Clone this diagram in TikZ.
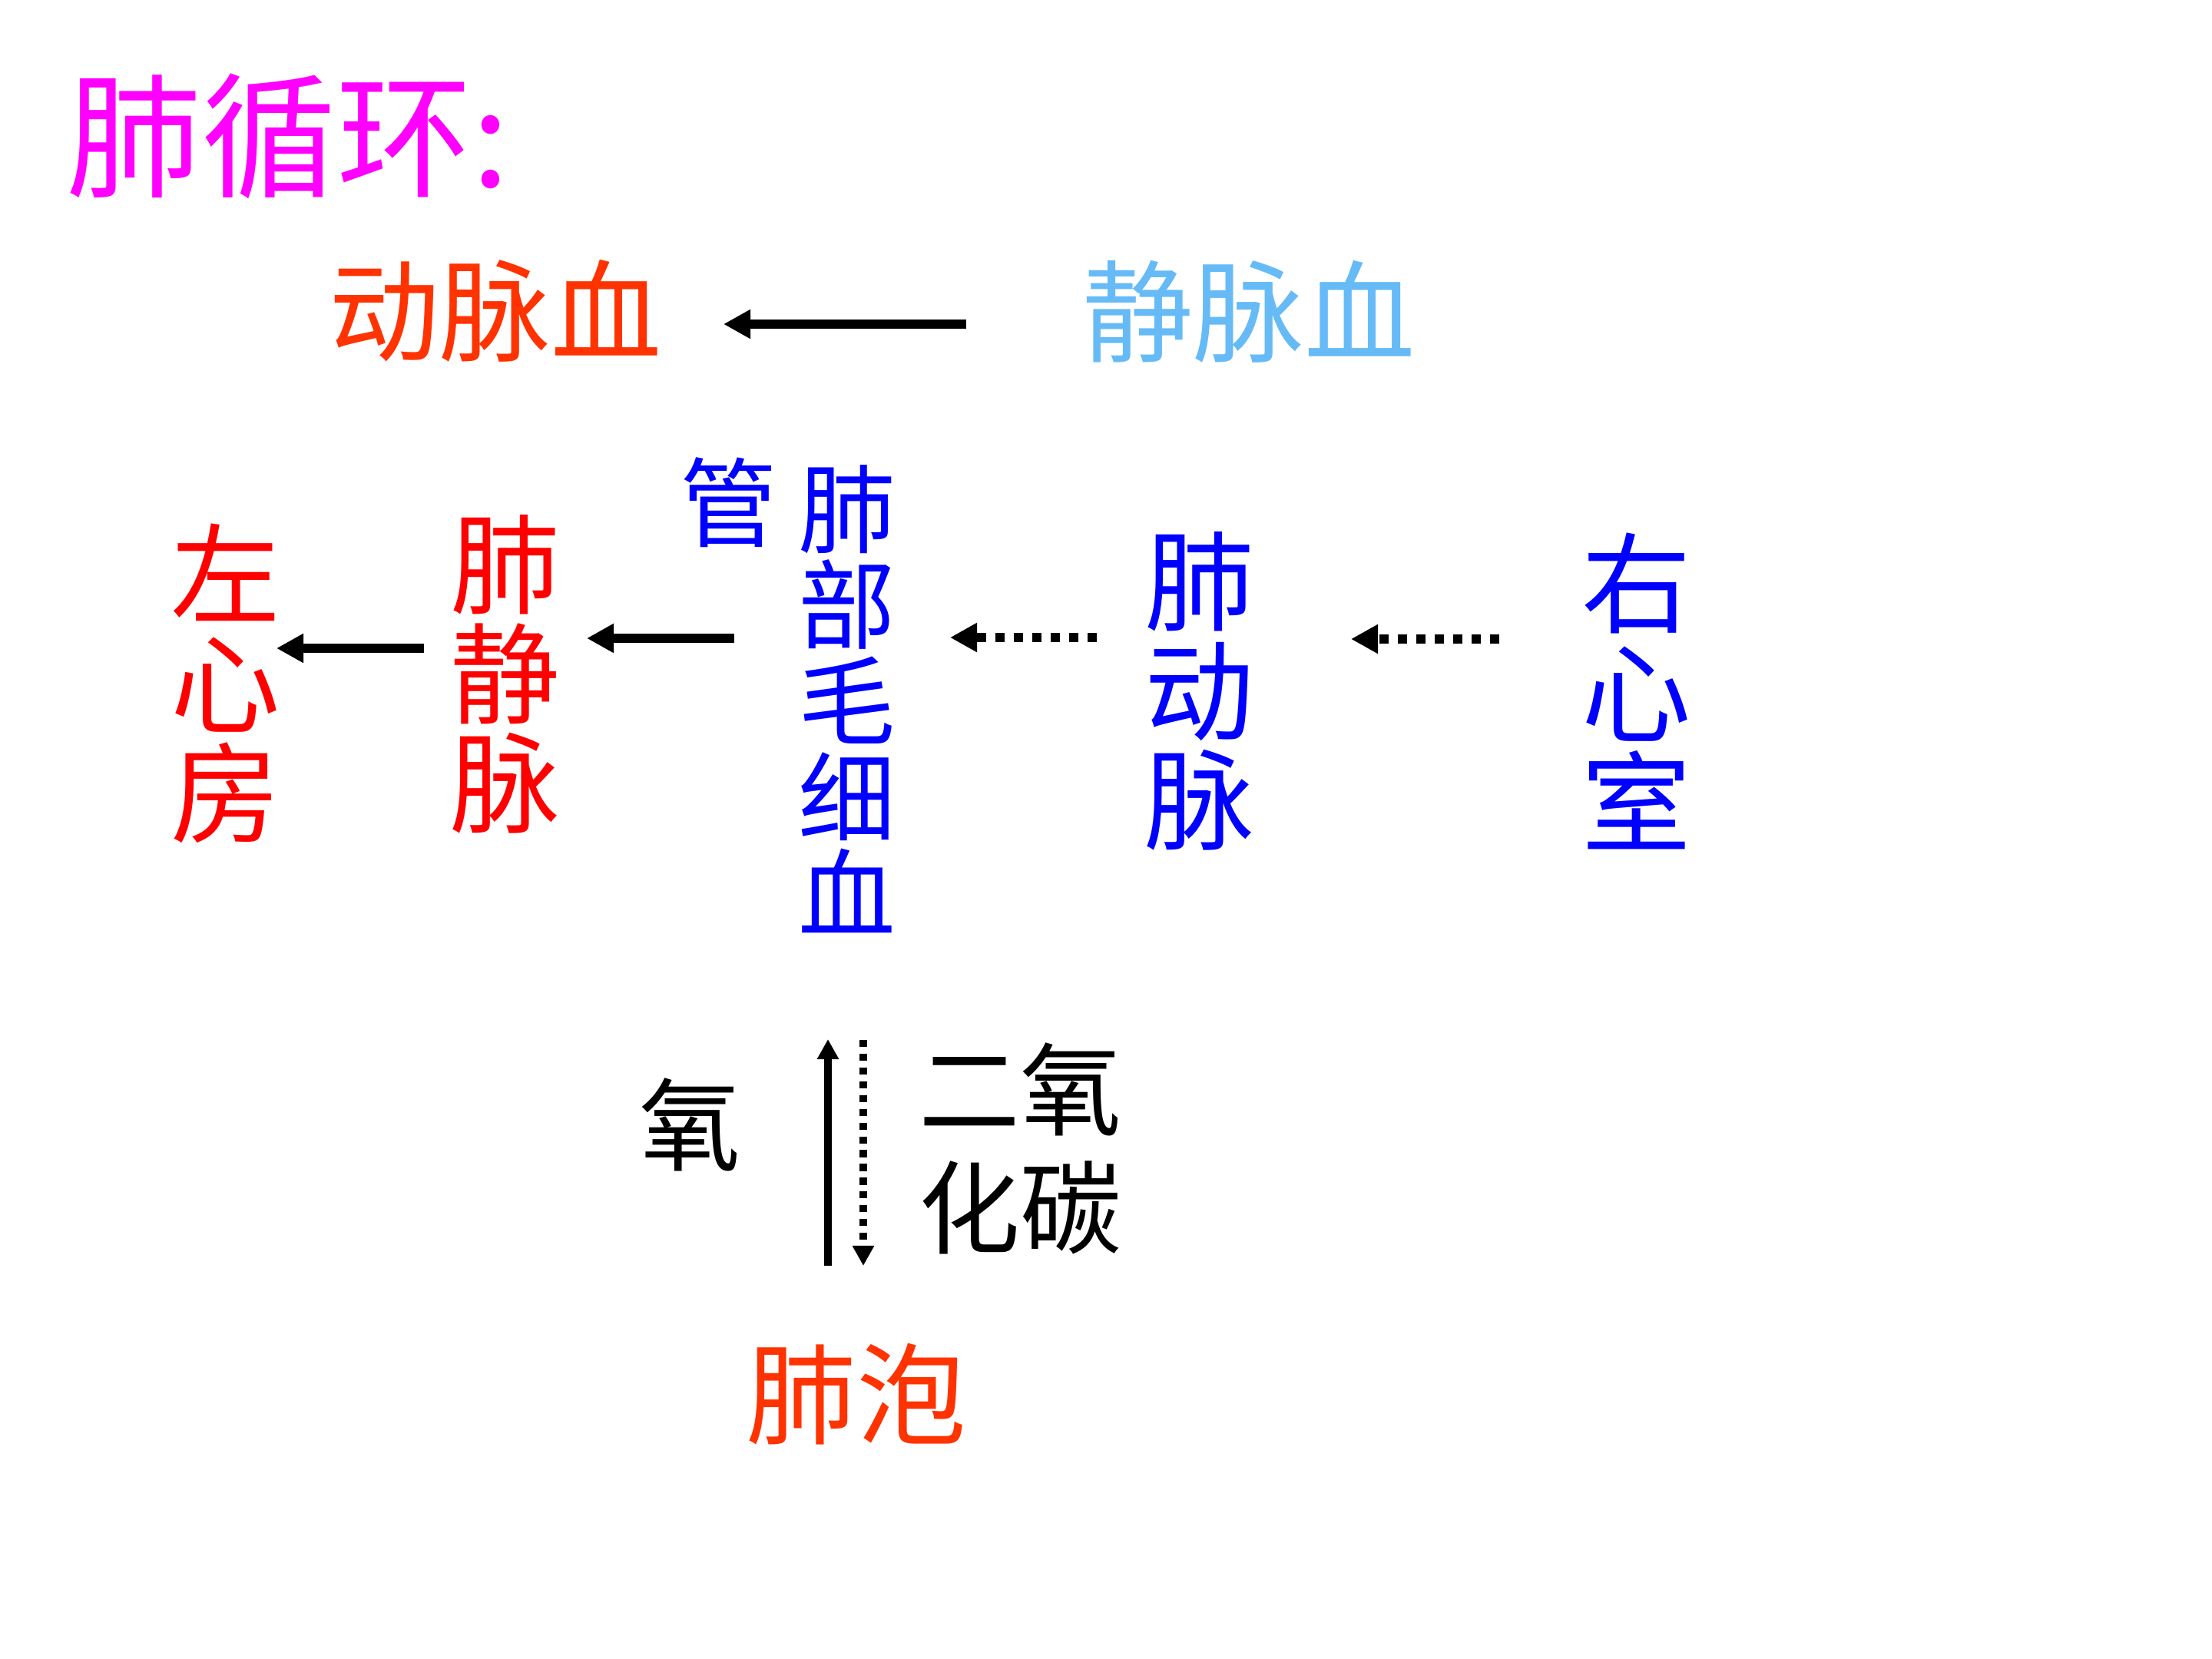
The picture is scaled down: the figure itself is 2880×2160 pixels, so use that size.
\documentclass[tikz,border=0pt]{standalone}
\usepackage{fontspec}
\setmainfont{Noto Sans CJK SC}
\usetikzlibrary{arrows.meta}
\definecolor{mag}{RGB}{255,0,255}
\definecolor{ored}{RGB}{255,51,0}
\definecolor{lblue}{RGB}{102,187,247}
\definecolor{pblue}{RGB}{0,0,255}
\definecolor{pred}{RGB}{255,0,0}
\tikzset{
  lbl/.style={inner sep=0pt, outer sep=0pt, align=center},
  bigcol/.style={lbl, font=\fontsize{40.5}{40.5}\selectfont},
  smallcol/.style={lbl, font=\fontsize{36}{35.6}\selectfont},
  gas/.style={lbl, font=\fontsize{37.5}{43.8}\selectfont},
  flow/.style={line width=3.41pt, -{Triangle[length=9.96pt,width=10.2pt]}},
  dotflow/.style={flow, dash pattern=on 3.41pt off 3.41pt},
  vflow/.style={line width=2.6pt, -{Triangle[length=7.4pt,width=7.6pt]}},
  vdotflow/.style={vflow, dash pattern=on 2.6pt off 2.5pt}
}
\begin{document}
\begin{tikzpicture}[x=0.01cm,y=-0.01cm]
\useasboundingbox[fill=white] (0,0) rectangle (2880,2160);
% title
\node[lbl, text=mag, font=\fontsize{50}{50}\selectfont] (title) at (375,177) {肺循环:};
% blood types
\node[lbl, text=ored, font=\fontsize{41}{41}\selectfont] (dmx) at (645,405) {动脉血};
\node[lbl, text=lblue, font=\fontsize{41}{41}\selectfont] (jmx) at (1626,406) {静脉血};
% circulation row
\node[bigcol, text=pred] (zxf) at (294,890) {左\\心\\房};
\node[bigcol, text=pred] (fjm) at (658,878) {肺\\静\\脉};
\node[smallcol, text=pblue] (guan) at (949,654) {管};
\node[smallcol, text=pblue] (fmx) at (1103,910) {肺\\部\\毛\\细\\血};
\node[bigcol, text=pblue] (fdm) at (1562,900) {肺\\动\\脉};
\node[bigcol, text=pblue] (yxs) at (2131,900) {右\\心\\室};
% gas exchange
\node[gas] (yang) at (898,1464) {氧};
\node[gas] (eyht) at (1328,1495) {二氧\\化碳};
\node[lbl, text=ored, font=\fontsize{40.7}{40.7}\selectfont] (fp) at (1115,1815) {肺泡};
% arrow end points
\coordinate (t1) at (1258,422); \coordinate (t2) at (942,422);
\coordinate (a1) at (552,844); \coordinate (a2) at (360,844);
\coordinate (b1) at (956,831); \coordinate (b2) at (764,831);
\coordinate (c1) at (1428,830); \coordinate (c2) at (1237,830);
\coordinate (d1) at (1952,832); \coordinate (d2) at (1759,832);
\coordinate (u1) at (1078,1648); \coordinate (u2) at (1078,1353);
\coordinate (w1) at (1124,1354); \coordinate (w2) at (1124,1648);
% arrows
\draw[flow] (t1) -- (t2);
\draw[flow] (a1) -- (a2);
\draw[flow] (b1) -- (b2);
\draw[dotflow] (c1) -- (c2);
\draw[dotflow] (d1) -- (d2);
\draw[vflow] (u1) -- (u2);
\draw[vdotflow] (w1) -- (w2);
\end{tikzpicture}
\end{document}
